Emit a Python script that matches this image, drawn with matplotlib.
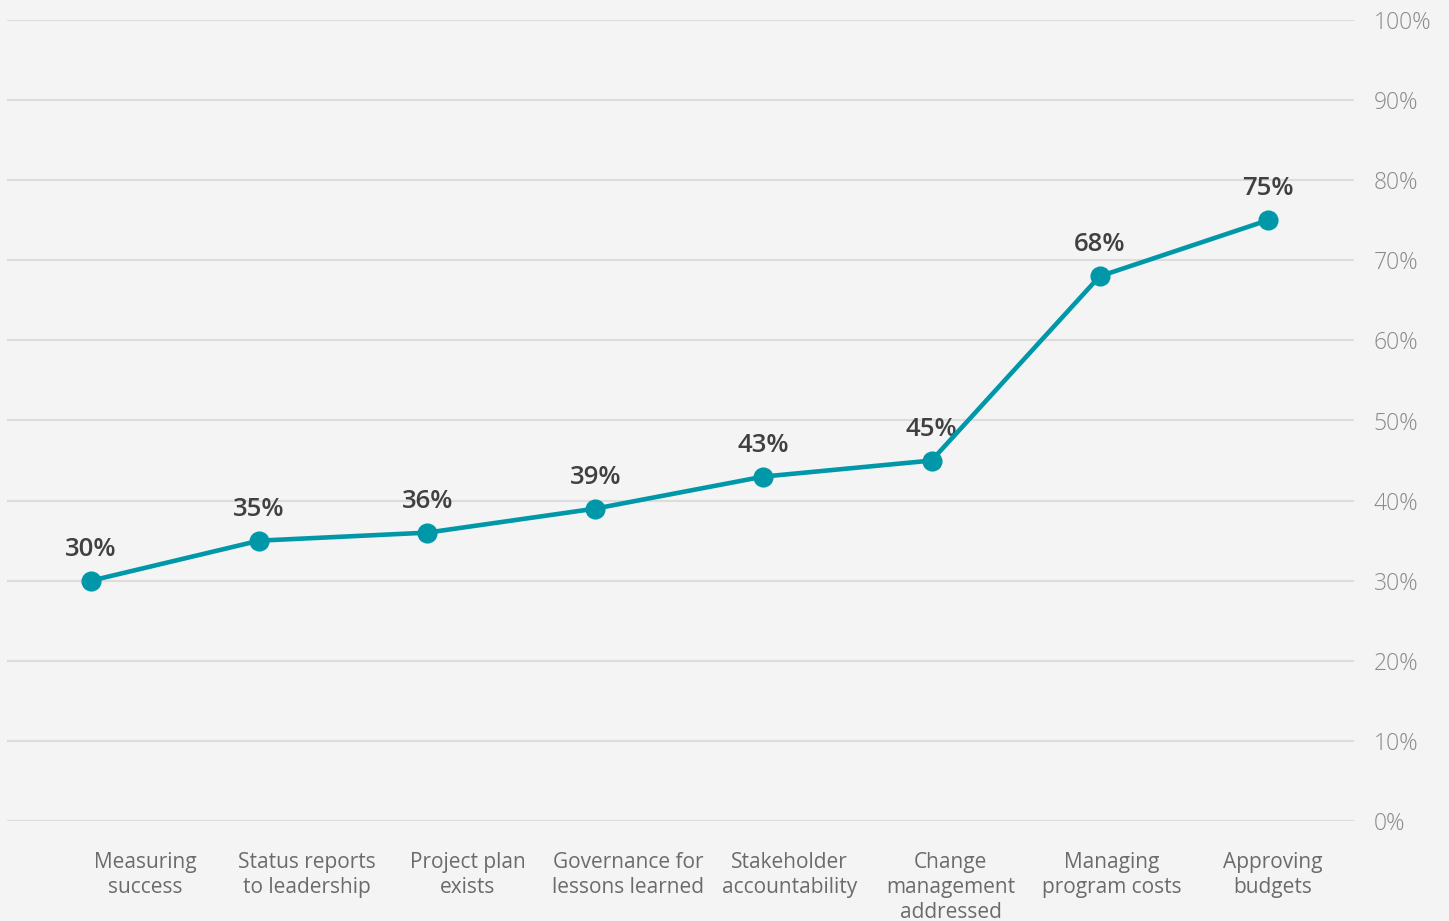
import matplotlib
matplotlib.use("Agg")
import matplotlib.pyplot as plt
from matplotlib.ticker import FixedLocator

categories = [
    "Measuring\nsuccess",
    "Status reports\nto leadership",
    "Project plan\nexists",
    "Governance for\nlessons learned",
    "Stakeholder\naccountability",
    "Change\nmanagement\naddressed",
    "Managing\nprogram costs",
    "Approving\nbudgets",
]
values = [30, 35, 36, 39, 43, 45, 68, 75]
y_ticks = [0, 10, 20, 30, 40, 50, 60, 70, 80, 90, 100]
y_tick_labels = [f"{t}%" for t in y_ticks]

BG = "#f4f4f4"
TEAL = "#0098a8"
GRID = "#dcdcdc"

plt.rcParams["font.family"] = ["Open Sans", "DejaVu Sans"]

W, H = 1449, 921
fig = plt.figure(figsize=(W / 100, H / 100), dpi=100, facecolor=BG)
left, right, top, bottom = 7, 1354, 20, 821
ax = fig.add_axes([left / W, 1 - bottom / H, (right - left) / W, (bottom - top) / H])
ax.set_facecolor(BG)

x = list(range(len(values)))
ax.plot(x, values, color=TEAL, lw=3.3, marker="o", ms=13.5,
        markerfacecolor=TEAL, markeredgecolor=TEAL, zorder=3,
        solid_capstyle="round")

for xi, v in zip(x, values):
    ax.annotate(f"{v}%", (xi, v), xytext=(0, 18), textcoords="offset points",
                ha="center", va="baseline", fontsize=18.5, fontweight="semibold",
                color="#404040", zorder=2)

ax.set_xlim(-0.5, 7.513)
ax.set_ylim(0, 100)
ax.yaxis.set_major_locator(FixedLocator(y_ticks))
ax.set_yticklabels(y_tick_labels)
ax.yaxis.tick_right()
ax.tick_params(axis="y", length=0, pad=14, labelsize=16.5, labelcolor="#8a8a8a")
for lab in ax.get_yticklabels():
    lab.set_fontweight("light")
ax.grid(axis="y", color=GRID, lw=1.5)
ax.set_axisbelow(True)
ax.set_xticks([])
for s in ax.spines.values():
    s.set_visible(False)

# category labels sit on a band scale of their own
ax2 = ax.twiny()
ax2.set_xlim(-0.36, 8.006)
ax2.xaxis.set_ticks_position("bottom")
ax2.xaxis.set_label_position("bottom")
ax2.set_xticks([i + 0.5 for i in range(len(categories))])
ax2.set_xticklabels(categories, linespacing=1.25)
ax2.tick_params(axis="x", length=0, pad=22, labelsize=15, labelcolor="#6b6b6b")
for s in ax2.spines.values():
    s.set_visible(False)

fig.savefig("out.png", dpi=100, facecolor=BG)
